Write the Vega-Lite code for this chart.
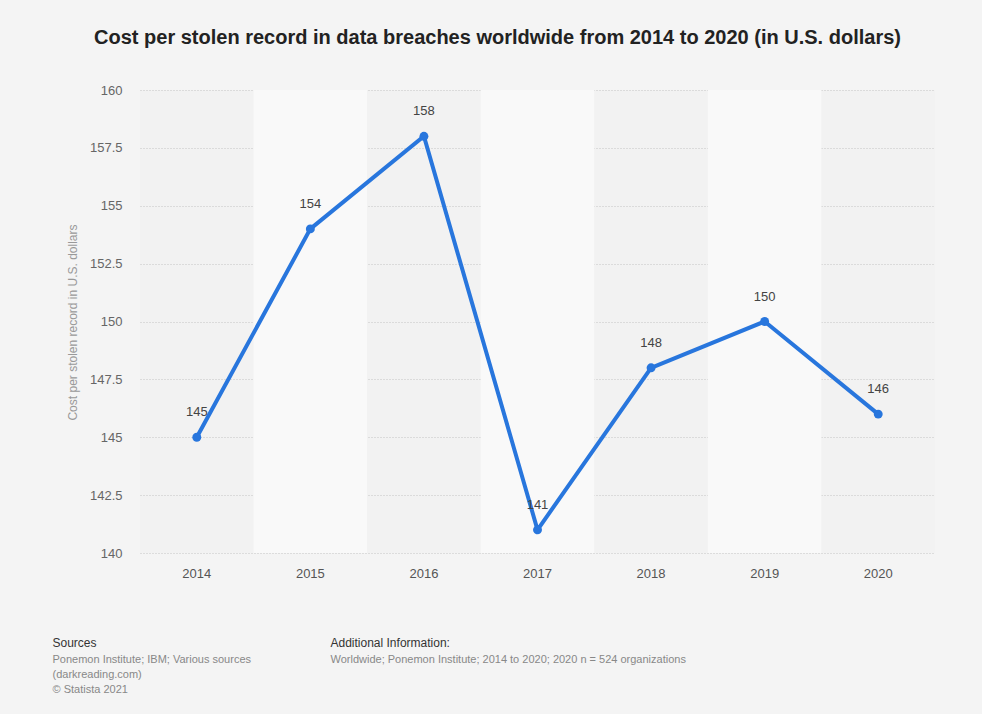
{
  "$schema": "https://vega.github.io/schema/vega-lite/v6.json",
  "width": 795,
  "height": 463,
  "autosize": {"type": "none"},
  "padding": {"left": 140, "top": 90, "right": 47, "bottom": 161},
  "background": "#f4f4f4",
  "config": {
    "font": "Liberation Sans",
    "view": {"fill": "#f2f2f2", "stroke": null},
    "axisY": {
      "labelFontSize": 13,
      "labelColor": "#666666",
      "labelPadding": 18,
      "ticks": false,
      "domain": false,
      "grid": true,
      "gridColor": "#c4c4c4",
      "gridDash": [1, 2],
      "gridWidth": 1,
      "zindex": 1,
      "titleFontSize": 12,
      "titleFontWeight": "normal",
      "titleColor": "#999999",
      "titleAngle": -90,
      "titleX": -68,
      "titleY": 232,
      "titleAlign": "center",
      "titleAnchor": null,
      "titleBaseline": "middle"
    }
  },
  "title": {
    "text": "Cost per stolen record in data breaches worldwide from 2014 to 2020 (in U.S. dollars)",
    "fontSize": 20,
    "fontWeight": "bold",
    "color": "#222222",
    "anchor": "middle",
    "dx": -40,
    "offset": 36
  },
  "datasets": {
    "costs": [
      {"year": "2014", "cost": 145},
      {"year": "2015", "cost": 154},
      {"year": "2016", "cost": 158},
      {"year": "2017", "cost": 141},
      {"year": "2018", "cost": 148},
      {"year": "2019", "cost": 150},
      {"year": "2020", "cost": 146}
    ],
    "altYears": [
      {"year": "2015"},
      {"year": "2017"},
      {"year": "2019"}
    ]
  },
  "resolve": {"axis": {"x": "independent"}},
  "layer": [
    {
      "data": {"name": "altYears"},
      "mark": {"type": "rect", "color": "#f9f9f9"},
      "encoding": {
        "x": {
          "field": "year",
          "type": "ordinal",
          "scale": {"type": "band", "domain": ["2014", "2015", "2016", "2017", "2018", "2019", "2020"], "paddingInner": 0, "paddingOuter": 0},
          "axis": {
            "orient": "bottom",
            "labelAngle": 0,
            "labelFontSize": 13,
            "labelColor": "#555555",
            "labelPadding": 14,
            "ticks": false,
            "domain": false,
            "grid": false,
            "title": "Sources",
            "titleFontSize": 12,
            "titleFontWeight": "normal",
            "titleColor": "#333333",
            "titleX": -88,
            "titleY": 93,
            "titleAlign": "left",
            "titleAnchor": null,
            "titleBaseline": "alphabetic"
          }
        }
      }
    },
    {
      "data": {"name": "costs"},
      "mark": {"type": "line", "color": "#2876dd", "strokeWidth": 4},
      "encoding": {
        "x": {
          "field": "year",
          "type": "ordinal",
          "axis": {
            "orient": "bottom",
            "labels": false,
            "ticks": false,
            "domain": false,
            "grid": false,
            "title": ["Ponemon Institute; IBM; Various sources", "(darkreading.com)", "© Statista 2021"],
            "titleFontSize": 11,
            "titleFontWeight": "normal",
            "titleColor": "#888888",
            "titleLineHeight": 15,
            "titleX": -88,
            "titleY": 109,
            "titleAlign": "left",
            "titleAnchor": null,
            "titleBaseline": "alphabetic"
          }
        },
        "y": {
          "field": "cost",
          "type": "quantitative",
          "scale": {"domain": [140, 160], "zero": false, "nice": false},
          "axis": {"values": [140, 142.5, 145, 147.5, 150, 152.5, 155, 157.5, 160], "format": ".4~g", "title": "Cost per stolen record in U.S. dollars"}
        }
      }
    },
    {
      "data": {"name": "costs"},
      "mark": {"type": "point", "filled": true, "color": "#2876dd", "size": 80, "opacity": 1},
      "encoding": {
        "x": {
          "field": "year",
          "type": "ordinal",
          "axis": {
            "orient": "bottom",
            "labels": false,
            "ticks": false,
            "domain": false,
            "grid": false,
            "title": "Additional Information:",
            "titleFontSize": 12,
            "titleFontWeight": "normal",
            "titleColor": "#333333",
            "titleX": 190,
            "titleY": 93,
            "titleAlign": "left",
            "titleAnchor": null,
            "titleBaseline": "alphabetic"
          }
        },
        "y": {
          "field": "cost",
          "type": "quantitative",
          "axis": {"values": [140, 142.5, 145, 147.5, 150, 152.5, 155, 157.5, 160], "format": ".4~g", "title": "Cost per stolen record in U.S. dollars"}
        }
      }
    },
    {
      "data": {"name": "costs"},
      "mark": {"type": "text", "fontSize": 13, "color": "#444444", "baseline": "alphabetic", "dy": -21},
      "encoding": {
        "x": {
          "field": "year",
          "type": "ordinal",
          "axis": {
            "orient": "bottom",
            "labels": false,
            "ticks": false,
            "domain": false,
            "grid": false,
            "title": "Worldwide; Ponemon Institute; 2014 to 2020; 2020 n = 524 organizations",
            "titleFontSize": 11,
            "titleFontWeight": "normal",
            "titleColor": "#888888",
            "titleX": 190,
            "titleY": 109,
            "titleAlign": "left",
            "titleAnchor": null,
            "titleBaseline": "alphabetic"
          }
        },
        "y": {
          "field": "cost",
          "type": "quantitative",
          "axis": {"values": [140, 142.5, 145, 147.5, 150, 152.5, 155, 157.5, 160], "format": ".4~g", "title": "Cost per stolen record in U.S. dollars"}
        },
        "text": {"field": "cost", "type": "quantitative"}
      }
    }
  ]
}
